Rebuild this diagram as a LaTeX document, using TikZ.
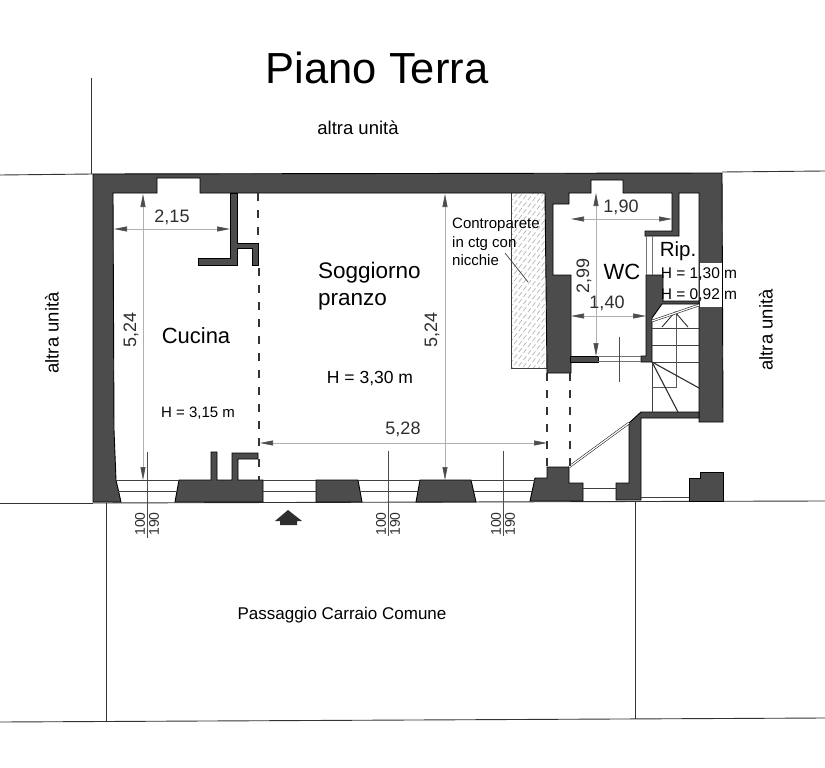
\documentclass[tikz,border=0pt]{standalone}
\usepackage{fontspec}
\setmainfont{Liberation Sans}
\usetikzlibrary{arrows.meta}
\newcommand{\fsz}[2]{\fontsize{#1}{#2}\selectfont}
\definecolor{wallgray}{HTML}{4C4C4C}
\definecolor{dimgray}{HTML}{B0B0B0}
\definecolor{inkgray}{HTML}{2E2E2E}
\definecolor{hatchgray}{HTML}{B8B8B8}
\begin{document}
\begin{tikzpicture}[x=1pt, y=-1pt]
	\tikzstyle{wall}    = [draw=black, line width=0.9pt, fill=wallgray, line join=miter]
	\tikzstyle{thin}    = [draw=black!75, line width=0.7pt]
	\tikzstyle{page}    = [draw=black!80, line width=0.9pt]
	\tikzstyle{opening} = [draw=black!80, line width=1.5pt, dash pattern=on 8pt off 9pt]
	\tikzstyle{dimline} = [draw=dimgray, line width=0.6pt, {Stealth[length=13pt, width=5pt, inset=0pt, wallgray]}-{Stealth[length=13pt, width=5pt, inset=0pt, wallgray]}]
	\tikzstyle{dimtext} = [inner sep=0pt, text=inkgray, font=\fsz{18}{18}]
	\tikzstyle{label}   = [inner sep=0pt, text=black, align=left]
	\tikzstyle{sill}    = [inner sep=0pt, text=inkgray, font=\fsz{14}{14}, rotate=90]

	\useasboundingbox (0,0) rectangle (825,768);
	\fill[white] (0,0) rectangle (825,768);

	% surrounding property lines
	\draw[page] (0,175) -- (93,174);
	\draw[page] (722,172) -- (825,171);
	\draw[page] (91,78) -- (91,174);
	\draw[page] (0,503) -- (93,503);
	\draw[page] (93,503) -- (825,501);
	\draw[page] (106,503) -- (106,722);
	\draw[page] (635,501) -- (635,719);
	\draw[page] (0,722) -- (825,718);

	% hatched counter wall
	\begin{scope}
		\clip (511,192) rectangle (546,368);
		\foreach \k in {0,7,...,245}
			\draw[hatchgray, line width=0.7pt, dash pattern=on 5pt off 2.5pt] (505,195+\k) -- (551,135+\k);
	\end{scope}
	\draw[thin] (511,190) -- (511,368) -- (547,368);
	\draw[thin] (505,253) -- (528,282);

	% shell
	\draw[wall] (93,174) -- (722,173) -- (723,422) -- (699,422) -- (699,193) -- (679,193)
		-- (679,236) -- (645,236) -- (645,231) -- (672,231) -- (672,193) -- (623,193)
		-- (623,180) -- (591,180) -- (591,193) -- (569,193) -- (569,204) -- (553,204)
		-- (553,275) -- (571,275) -- (571,373) -- (547,373) -- (545,193) -- (200,193)
		-- (200,178) -- (157,178) -- (157,193) -- (113,193) -- (114,430) -- (116,480)
		-- (121,502) -- (93,502) -- cycle;
	\fill[white] (700,263) rectangle (722,307);

	% cucina partitions
	\draw[wall] (230,193) -- (237,193) -- (237,243) -- (258,243) -- (258,265) -- (252,265)
		-- (252,248) -- (237,248) -- (237,265) -- (198,265) -- (198,258) -- (230,258) -- cycle;

	% wc and stairs walls
	\draw[wall] (646,275) -- (663,275) -- (663,301) -- (699,301) -- (699,304) -- (662,304)
		-- (652,318) -- (652,362) -- (641,362) -- (641,356) -- (646,356) -- cycle;
	\draw[wall] (570,356) -- (598,356) -- (598,362) -- (570,362) -- cycle;
	\draw[wall] (641,412) -- (699,412) -- (699,418) -- (641,418) -- (641,500) -- (616,500)
		-- (616,483) -- (629,483) -- (629,423) -- cycle;
	\draw[wall] (689,501) -- (689,478) -- (700,478) -- (700,472) -- (723,472) -- (723,501) -- cycle;

	% facade piers
	\draw[wall] (175,502) -- (179,480) -- (211,480) -- (211,452) -- (217,452) -- (217,480)
		-- (232,480) -- (232,453) -- (258,453) -- (258,459) -- (238,459) -- (238,480)
		-- (263,480) -- (263,502) -- cycle;
	\draw[wall] (316,502) -- (316,480) -- (358,480) -- (362,502) -- cycle;
	\draw[wall] (416,502) -- (420,480) -- (471,480) -- (476,502) -- cycle;
	\draw[wall] (530,501) -- (535,478) -- (547,478) -- (547,467) -- (569,467) -- (569,483)
		-- (583,483) -- (583,501) -- cycle;

	% window rails
	\foreach \from/\to in {116/179, 263/316, 358/420, 471/535}
		\draw[thin] (\from,480) -- (\to,480);
	\foreach \from/\to in {118/176, 263/316, 360/418, 474/532}
		\draw[thin] (\from,491) -- (\to,491);
	\draw[thin] (583,488) -- (616,488);
	\draw[thin] (641,497) -- (689,497);
	\foreach \y in {356,361}
		\draw[black!55, line width=0.6pt] (598,\y) -- (641,\y);
	\foreach \x in {646,652}
		\draw[black!55, line width=0.6pt] (\x,236) -- (\x,275);

	% stairs
	\foreach \y in {328,345,362}
		\draw[thin] (652,\y) -- (699,\y);
	\draw[thin] (652,362) -- (652,412);
	\draw[black!65, line width=0.6pt] (676,312) -- (676,387) -- (652,387);
	\draw[inkgray, line width=1.1pt] (652,362) -- (699,388);
	\draw[inkgray, line width=1.1pt] (652,362) -- (678,412);
	\draw[inkgray, line width=0.9pt] (662,327) -- (675,312) -- (688,327);
	\draw[black!85, line width=0.6pt, double=white, double distance=1.2pt] (652,321) -- (699,305);
	\draw[black!85, line width=0.6pt, double=white, double distance=1.2pt] (569,467) -- (629,423);

	% openings
	\draw[opening] (258,193) -- (258,243);
	\draw[opening] (259,268) -- (259,453);
	\draw[opening] (259,459) -- (259,480);
	\draw[opening] (547,373) -- (547,467);
	\draw[opening] (570,373) -- (570,467);

	% dimensions
	\draw[dimline] (114,229) -- (230,229);
	\draw[dimline] (143,194) -- (143,480);
	\draw[dimline] (445,194) -- (445,480);
	\draw[dimline] (260,443) -- (547,443);
	\draw[dimline] (571,219) -- (672,219);
	\draw[dimline] (571,316) -- (646,316);
	\draw[dimline] (596,193) -- (596,356);

	% sill marks
	\foreach \x/\a/\b in {147/452/538, 388/451/536, 503/451/536}
		\draw[black!70, line width=0.7pt] (\x,\a) -- (\x,\b);
	\draw[black!70, line width=0.7pt] (619,337) -- (619,382);

	% entrance
	\fill[inkgray] (288,510) -- (302,521) -- (297,521) -- (297,525) -- (280,525) -- (280,521) -- (275,521) -- cycle;

	% texts
	\node[label, font=\fsz{43.5}{43.5}] (title) at (377,68) {Piano Terra};
	\node[label, font=\fsz{18.5}{18.5}] (unitTop) at (358,128) {altra unità};
	\node[label, font=\fsz{18.5}{18.5}, rotate=90] (unitLeft) at (52,333) {altra unità};
	\node[label, font=\fsz{18.5}{18.5}, rotate=90] (unitRight) at (766,330) {altra unità};
	\node[label, font=\fsz{22}{22}] (cucina) at (196,336) {Cucina};
	\node[label, font=\fsz{22.5}{27}, anchor=north west] (soggiorno) at (318,262) {Soggiorno\\pranzo};
	\node[label, font=\fsz{22}{22}] (wc) at (622,272) {WC};
	\node[label, font=\fsz{20.5}{20.5}] (rip) at (678,251) {Rip.};
	\node[label, font=\fsz{15}{18.5}, anchor=north west] (contro) at (452,218) {Controparete\\in ctg con\\nicchie};
	\node[label, font=\fsz{17.5}{17.5}] (hSoggiorno) at (370,379) {H = 3,30 m};
	\node[label, font=\fsz{15}{15}] (hCucina) at (198,413) {H = 3,15 m};
	\node[label, font=\fsz{15.5}{15.5}] (hRipA) at (699,274) {H = 1,30 m};
	\node[label, font=\fsz{15.5}{15.5}] (hRipB) at (699,295) {H = 0,92 m};
	\node[label, font=\fsz{17}{17}] (passaggio) at (342,615) {Passaggio Carraio Comune};

	\node[dimtext] (dimCucinaW) at (172,217) {2,15};
	\node[dimtext, rotate=90] (dimCucinaH) at (131,330) {5,24};
	\node[dimtext, rotate=90] (dimSoggH) at (432,330) {5,24};
	\node[dimtext] (dimSoggW) at (403,429) {5,28};
	\node[dimtext] (dimWcTop) at (621,207) {1,90};
	\node[dimtext] (dimWcBot) at (607,303) {1,40};
	\node[dimtext, rotate=90] (dimWcH) at (584,276) {2,99};

	\foreach \name/\x in {a/147, b/388, c/503} {
		\node[sill] (sillLow\name) at (\x-7,524) {100};
		\node[sill] (sillHigh\name) at (\x+7,524) {190};
	}
\end{tikzpicture}
\end{document}
